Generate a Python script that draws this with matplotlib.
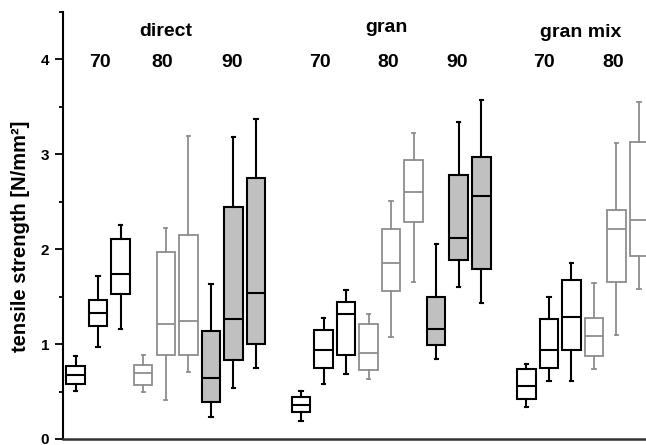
import matplotlib
matplotlib.use("Agg")
import matplotlib.pyplot as plt
from matplotlib.ticker import MultipleLocator

plt.rcParams['font.family'] = ['Liberation Sans', 'DejaVu Sans']
plt.rcParams['font.weight'] = 'bold'

# groups / subgroups (gran mix 90 lies outside the visible part)
groups = ["direct", "gran", "gran mix"]
group_label_x = [5.0, 14.8, 23.4]
group_label_y = [4.25, 4.29, 4.24]
sub_labels = ["70", "80", "90", "70", "80", "90", "70", "80"]
sub_label_x = [2.08, 4.85, 7.96, 11.84, 14.89, 17.95, 21.79, 24.84]
subgroups = ["70", "80", "90"]

# box statistics, 3 boxes per subgroup
whislo = [0.51, 0.97, 1.16,  0.50, 0.41, 0.71,  0.23, 0.54, 0.75,
          0.19, 0.58, 0.68,  0.63, 1.08, 1.65,  0.84, 1.60, 1.43,
          0.34, 0.61, 0.61,  0.74, 1.10, 1.58]
q1 = [0.58, 1.19, 1.53,  0.57, 0.89, 0.89,  0.39, 0.83, 1.00,
      0.28, 0.75, 0.89,  0.73, 1.56, 2.29,  0.99, 1.89, 1.79,
      0.42, 0.75, 0.94,  0.87, 1.65, 1.93]
med = [0.67, 1.33, 1.74,  0.70, 1.21, 1.24,  0.64, 1.26, 1.54,
       0.36, 0.94, 1.32,  0.91, 1.86, 2.60,  1.16, 2.12, 2.56,
       0.56, 0.94, 1.29,  1.09, 2.21, 2.31]
q3 = [0.77, 1.47, 2.11,  0.78, 1.97, 2.15,  1.14, 2.44, 2.75,
      0.44, 1.15, 1.44,  1.21, 2.21, 2.94,  1.50, 2.78, 2.97,
      0.74, 1.26, 1.68,  1.28, 2.41, 3.13]
whishi = [0.87, 1.72, 2.26,  0.88, 2.22, 3.19,  1.63, 3.18, 3.37,
          0.51, 1.28, 1.57,  1.32, 2.51, 3.22,  2.05, 3.34, 3.57,
          0.79, 1.50, 1.86,  1.64, 3.12, 3.55]

# style per subgroup: (edge colour, face colour)
styles = {"70": ("black", "white"), "80": ("#8e8e8e", "white"), "90": ("black", "#c0c0c0")}

positions, kinds = [], []
for g in range(3):
    for s in range(3):
        for k in range(3):
            positions.append(g * 10 + s * 3 + k + 1)
            kinds.append(subgroups[s])
positions = positions[:len(med)]
kinds = kinds[:len(med)]

fig = plt.figure(figsize=(6.46, 4.45), dpi=100)
ax = fig.add_axes([63 / 646, 6 / 445, 1 - 63 / 646, 427 / 445])

for i in range(len(med)):
    ec, fc = styles[kinds[i]]
    lw = 1.5 if ec == "black" else 1.3
    st = [dict(whislo=whislo[i], q1=q1[i], med=med[i], q3=q3[i], whishi=whishi[i], fliers=[])]
    ax.bxp(st, positions=[positions[i]], widths=0.82, patch_artist=True,
           showfliers=False, capwidths=0.15,
           boxprops=dict(facecolor=fc, edgecolor=ec, linewidth=lw),
           medianprops=dict(color=ec, linewidth=lw),
           whiskerprops=dict(color=ec, linewidth=lw),
           capprops=dict(color=ec, linewidth=lw))

# subgroup and group labels
for name, x in zip(sub_labels, sub_label_x):
    ax.text(x, 3.92, name, ha='center', va='baseline', fontsize=14, fontweight='bold')
for name, x, y in zip(groups, group_label_x, group_label_y):
    ax.text(x, y, name, ha='center', va='baseline', fontsize=14, fontweight='bold')

ax.set_xlim(0.44, 26.31)
ax.set_ylim(0, 4.5)
ax.set_xticks([])
ax.yaxis.set_major_locator(MultipleLocator(1))
ax.yaxis.set_minor_locator(MultipleLocator(0.5))
ax.tick_params(axis='y', which='major', length=6, width=1.3, pad=4, labelsize=11)
ax.tick_params(axis='y', which='minor', length=3, width=1.3)
for lab in ax.get_yticklabels():
    lab.set_fontweight('bold')
ax.spines['top'].set_visible(False)
ax.spines['right'].set_visible(False)
ax.spines['left'].set_linewidth(1.5)
ax.spines['bottom'].set_linewidth(1.8)
ax.spines['bottom'].set_color('#333333')
ax.set_ylabel("tensile strength [N/mm²]", fontsize=14.5, fontweight='bold')
ax.yaxis.set_label_coords(-0.056, 0.475)

fig.savefig("out.png", dpi=100)
